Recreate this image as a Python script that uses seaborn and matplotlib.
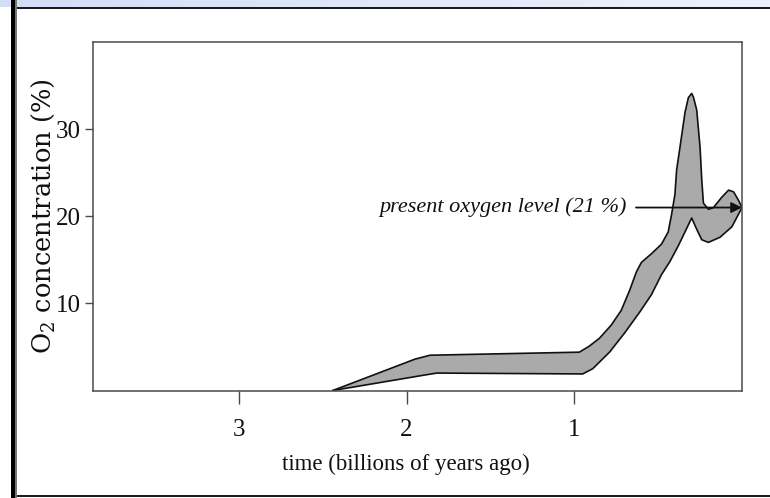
import numpy as np
import matplotlib
matplotlib.use("Agg")
import matplotlib.pyplot as plt
from matplotlib.patches import Rectangle
import seaborn as sns

# Oxygen envelope: upper and lower bounds (time in billions of years ago, O2 in %)
upper_time = [2.44, 1.95, 1.86, 0.97, 0.91, 0.85, 0.78, 0.72, 0.67, 0.63, 0.60, 0.54,
              0.48, 0.44, 0.42, 0.40, 0.39, 0.37, 0.34, 0.32, 0.30, 0.29, 0.27,
              0.25, 0.24, 0.23, 0.20, 0.17, 0.12, 0.08, 0.05, 0.02, 0.0]
upper_o2 = [0.0, 3.6, 4.05, 4.4, 5.1, 6.0, 7.5, 9.2, 11.5, 13.6, 14.7, 15.7,
            16.8, 18.2, 20.2, 22.5, 25.3, 27.9, 31.9, 33.6, 34.1, 33.7, 32.2,
            27.9, 24.2, 21.5, 20.8, 21.0, 22.2, 23.0, 22.8, 21.8, 21.0]

lower_time = [2.44, 1.90, 1.82, 0.95, 0.89, 0.79, 0.70, 0.61, 0.54, 0.48, 0.43, 0.38,
              0.34, 0.30, 0.27, 0.24, 0.20, 0.13, 0.06, 0.0]
lower_o2 = [0.0, 1.75, 2.0, 1.9, 2.5, 4.4, 6.6, 9.0, 11.0, 13.3, 14.8, 16.6,
            18.2, 19.8, 18.5, 17.3, 17.0, 17.6, 18.8, 21.0]

present_level = 21
y_ticks = [10, 20, 30]
x_ticks = [3, 2, 1]

sns.set_theme(style="ticks")
plt.rcParams["font.family"] = ["Liberation Serif", "DejaVu Serif"]
plt.rcParams["mathtext.fontset"] = "custom"
plt.rcParams["mathtext.rm"] = "DejaVu Serif"

fig = plt.figure(figsize=(7.70, 4.98), dpi=100, facecolor="white")
ax = fig.add_axes([93 / 770, 1 - 390.5 / 498, 649 / 770, 348.5 / 498])

# shaded envelope
poly_x = np.concatenate([upper_time, lower_time[::-1]])
poly_y = np.concatenate([upper_o2, lower_o2[::-1]])
ax.fill(poly_x, poly_y, color="#aaaaaa", lw=0, zorder=1)
sns.lineplot(x=upper_time, y=upper_o2, sort=False, estimator=None, ax=ax,
             color="#111111", lw=1.2, zorder=2)
sns.lineplot(x=lower_time, y=lower_o2, sort=False, estimator=None, ax=ax,
             color="#111111", lw=1.2, zorder=2)

ax.set_xlim(3.87, 0)
ax.set_ylim(0, 40)
ax.set_xticks(x_ticks)
ax.set_xticklabels([str(t) for t in x_ticks])
ax.set_yticks(y_ticks)
ax.set_yticklabels([str(t) for t in y_ticks])

for side in ["left", "right", "top", "bottom"]:
    ax.spines[side].set_visible(True)
    ax.spines[side].set_color("#4a4a4a")
    ax.spines[side].set_linewidth(1.1)

ax.tick_params(axis="y", length=6, width=1, color="#4a4a4a", pad=3,
               labelsize=18, labelcolor="#111111")
ax.tick_params(axis="x", length=9.5, width=1, color="#4a4a4a", pad=11,
               labelsize=18, labelcolor="#111111")

ax.set_xlabel("time (billions of years ago)", fontsize=16.5, color="#111111")
ax.xaxis.set_label_coords(0.482, -0.182)
ax.set_ylabel(r"O$_\mathregular{2}$ concentration (%)", fontsize=18.5,
              color="#111111", family=["DejaVu Serif"])
ax.yaxis.set_label_coords(-0.056, 0.5)

ax.annotate("present oxygen level (21 %)", xy=(0, present_level),
            xytext=(0.685, present_level), ha="right", va="center",
            fontsize=16, style="italic", color="#111111",
            arrowprops=dict(arrowstyle="-|>", color="#111111", lw=1.3,
                            mutation_scale=16, shrinkA=4, shrinkB=0))

# window frame around the figure
band = fig.add_axes([0, 1 - 7 / 498, 1, 7 / 498])
grad = np.linspace(0, 1, 256).reshape(1, -1)
band.imshow(grad, aspect="auto", cmap=matplotlib.colors.LinearSegmentedColormap.from_list(
    "band", ["#d3ddf6", "#eef2fc"]))
band.set_axis_off()
fig.add_artist(Rectangle((11 / 770, 1 - 9 / 498), 759 / 770, 2 / 498,
                         transform=fig.transFigure, color="#1a1a1a", lw=0))
fig.add_artist(Rectangle((11 / 770, 1 / 498), 759 / 770, 2 / 498,
                         transform=fig.transFigure, color="#1a1a1a", lw=0))
fig.add_artist(Rectangle((11 / 770, 0), 4 / 770, 1,
                         transform=fig.transFigure, color="#000000", lw=0))
fig.add_artist(Rectangle((15 / 770, 0), 2 / 770, 1,
                         transform=fig.transFigure, color="#777777", lw=0))

fig.savefig("out.png", dpi=100, facecolor="white")
